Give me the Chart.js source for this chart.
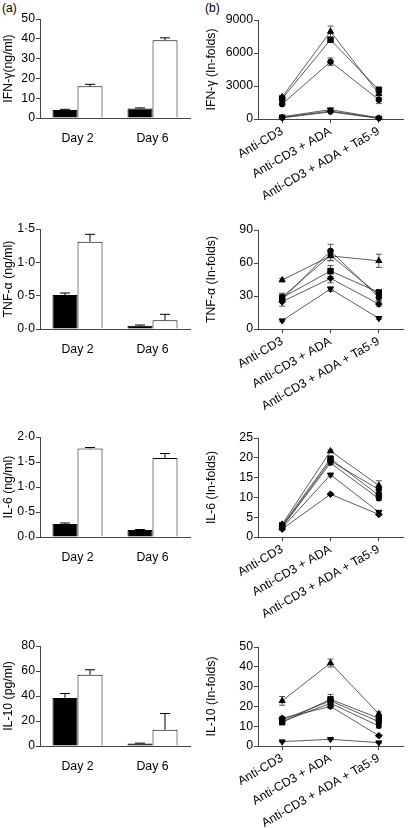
<!DOCTYPE html>
<html><head><meta charset="utf-8">
<script src="https://cdn.jsdelivr.net/npm/chart.js@4"></script>
<style>
body{margin:0;background:#fff;width:408px;height:828px;position:relative;overflow:hidden;font-family:"Liberation Sans",Arial,sans-serif}
canvas{position:absolute}
.lab{position:absolute;font-size:12px;color:#000;font-family:"Liberation Sans",Arial,sans-serif}
</style></head><body>
<div class="lab" style="left:2px;top:1px">(a)</div>
<div class="lab" style="left:205px;top:1px">(b)</div>
<canvas id="p1"></canvas><canvas id="p2"></canvas>
<canvas id="p3"></canvas><canvas id="p4"></canvas>
<canvas id="p5"></canvas><canvas id="p6"></canvas>
<canvas id="p7"></canvas><canvas id="p8"></canvas>
<script>
// ---------- categories ----------
const barCategories = ['Day 2', 'Day 6'];
const lineCategories = ['Anti-CD3', 'Anti-CD3 + ADA', 'Anti-CD3 + ADA + Ta5·9'];

// ---------- tick labels ----------
const ifnBarTicks = [0, 10, 20, 30, 40, 50];
const tnfBarTicks = [0, 0.5, 1.0, 1.5];
const il6BarTicks = [0, 0.5, 1.0, 1.5, 2.0];
const il10BarTicks = [0, 20, 40, 60, 80];
const ifnLineTicks = [0, 3000, 6000, 9000];
const tnfLineTicks = [0, 30, 60, 90];
const il6LineTicks = [0, 5, 10, 15, 20, 25];
const il10LineTicks = [0, 10, 20, 30, 40, 50];

// ---------- bar values (black = filled, white = open) ----------
const ifnBlack = [4.0, 4.8],  ifnBlackErr = [0.4, 0.3];
const ifnWhite = [16.0, 39.3], ifnWhiteErr = [1.0, 1.2];
const tnfBlack = [0.51, 0.05], tnfBlackErr = [0.03, 0.01];
const tnfWhite = [1.31, 0.13], tnfWhiteErr = [0.11, 0.09];
const il6Black = [0.26, 0.14], il6BlackErr = [0.02, 0.01];
const il6White = [1.77, 1.58], il6WhiteErr = [0.02, 0.09];
const il10Black = [38.5, 2.0], il10BlackErr = [3.5, 0.3];
const il10White = [57.0, 13.0], il10WhiteErr = [4.0, 13.0];

// ---------- line values (In-folds) ----------
const ifnTri  = [2000, 7950, 2300], ifnTriErr  = [150, 500, 350];
const ifnSq   = [1850, 7200, 2650], ifnSqErr   = [100, 200, 250];
const ifnCirc = [1350, 5200, 1750], ifnCircErr = [100, 350, 350];
const ifnDown = [200, 850, 100],    ifnDownErr = [50, 100, 30];
const ifnDia  = [150, 720, 80],     ifnDiaErr  = [40, 80, 30];
const ifnHex  = [100, 650, 60],     ifnHexErr  = [30, 60, 20];

const tnfTri  = [44.5, 66.4, 62.0], tnfTriErr  = [1.5, 4, 6];
const tnfSq   = [28.5, 52.7, 33.3], tnfSqErr   = [4, 5, 2];
const tnfCirc = [27.0, 71.0, 28.7], tnfCircErr = [3, 6, 3];
const tnfDia  = [24.8, 46.0, 22.7], tnfDiaErr  = [4, 4, 2];
const tnfDown = [7.6, 36.4, 9.7],   tnfDownErr = [1, 2, 1];
const tnfHex  = [29.0, 67.0, 31.0], tnfHexErr  = [3, 5, 3];

const il6Tri  = [3.2, 21.7, 13.0], il6TriErr  = [0.4, 0.3, 1.2];
const il6Sq   = [2.9, 19.8, 10.5], il6SqErr   = [0.3, 0.4, 0.6];
const il6Circ = [2.7, 19.2, 12.0], il6CircErr = [0.3, 0.4, 0.8];
const il6Hex  = [2.5, 18.7, 9.7],  il6HexErr  = [0.3, 0.4, 0.5];
const il6Down = [2.3, 15.7, 6.3],  il6DownErr = [0.3, 0.3, 0.3];
const il6Dia  = [2.0, 10.8, 5.7],  il6DiaErr  = [0.3, 0.3, 0.3];

const il10Tri  = [22.8, 41.9, 16.2], il10TriErr  = [2.2, 2.0, 1.0];
const il10Sq   = [12.0, 23.6, 14.0], il10SqErr   = [1.0, 2.5, 1.0];
const il10Circ = [13.2, 22.8, 12.3], il10CircErr = [1.0, 1.5, 1.0];
const il10Dia  = [14.0, 20.0, 5.2],  il10DiaErr  = [1.0, 1.0, 0.5];
const il10Hex  = [12.3, 21.6, 10.1], il10HexErr  = [1.0, 1.0, 1.0];
const il10Down = [2.2, 3.4, 1.7],    il10DownErr = [0.3, 0.3, 0.3];

// ---------- rendering ----------
const FS = 12.3;
Chart.defaults.font.family = '"Liberation Sans", Arial, sans-serif';
Chart.defaults.font.size = FS;
Chart.defaults.color = '#000';

const errPlugin = {
  id: 'errbars',
  beforeDatasetsDraw(chart) { if (chart.config.type === 'line') drawErr(chart, false); },
  afterDatasetsDraw(chart) { if (chart.config.type === 'bar') drawErr(chart, true); }
};
function drawErr(chart, upOnly) {
  const ctx = chart.ctx, y = chart.scales.y;
  chart.data.datasets.forEach((ds, i) => {
    if (!ds.errors) return;
    const meta = chart.getDatasetMeta(i);
    meta.data.forEach((el, j) => {
      const e = ds.errors[j]; if (!e) return;
      const v = ds.data[j];
      const top = y.getPixelForValue(v + e);
      const bot = upOnly ? y.getPixelForValue(v) : y.getPixelForValue(Math.max(v - e, 0));
      const cap = upOnly ? 10 : 6;
      ctx.save();
      ctx.strokeStyle = upOnly ? '#000' : '#555';
      ctx.lineWidth = 1;
      ctx.beginPath();
      ctx.moveTo(el.x, top); ctx.lineTo(el.x, bot);
      ctx.moveTo(el.x - cap / 2, top); ctx.lineTo(el.x + cap / 2, top);
      if (!upOnly) { ctx.moveTo(el.x - cap / 2, bot); ctx.lineTo(el.x + cap / 2, bot); }
      ctx.stroke();
      ctx.restore();
    });
  });
}

function yScale(ticks, title, fmt, axisW, titlePad) {
  return {
    min: ticks[0], max: ticks[ticks.length - 1],
    afterBuildTicks: s => { s.ticks = ticks.map(v => ({ value: v })); },
    afterFit: s => { s.width = axisW; },
    ticks: { callback: v => fmt(v), padding: 1, font: { size: FS }, color: '#000' },
    grid: { display: true, drawOnChartArea: false, drawTicks: true, tickLength: 4, color: '#444' },
    border: { display: true, color: '#444', width: 1 },
    title: { display: true, text: title, font: { size: FS }, padding: { top: titlePad, bottom: 0 }, color: '#000' }
  };
}
const fmtInt = v => String(v);
const fmtDot = v => v.toFixed(1).replace('.', '·');

function placeCanvas(id, left, top, w, h) {
  const c = document.getElementById(id);
  c.width = w; c.height = h;
  c.style.left = left + 'px'; c.style.top = top + 'px';
  c.style.width = w + 'px'; c.style.height = h + 'px';
  return c;
}

function makeBar(id, chartTop, chartBottom, black, blackErr, white, whiteErr, ticks, title, fmt) {
  const padTop = 12, xH = 30;
  const c = placeCanvas(id, 0, chartTop - padTop, 204, padTop + (chartBottom - chartTop) + xH);
  new Chart(c, {
    type: 'bar',
    data: {
      labels: barCategories,
      datasets: [
        { data: black, errors: blackErr, backgroundColor: '#000', borderColor: '#000', borderWidth: 1,
          categoryPercentage: 0.667, barPercentage: 1.0 },
        { data: white, errors: whiteErr, backgroundColor: '#fff', borderColor: '#000', borderWidth: 1,
          categoryPercentage: 0.667, barPercentage: 1.0 }
      ]
    },
    options: {
      responsive: false, animation: false, devicePixelRatio: 1,
      layout: { padding: { top: padTop, right: 14, left: 0, bottom: 0 } },
      plugins: { legend: { display: false }, tooltip: { enabled: false } },
      scales: {
        x: {
          afterFit: s => { s.height = xH; },
          ticks: { padding: 5, font: { size: FS }, color: '#000', maxRotation: 0 },
          grid: { display: false },
          border: { display: true, color: '#444', width: 1 }
        },
        y: yScale(ticks, title, fmt, 40, 1)
      }
    },
    plugins: [errPlugin]
  });
}

function lineDs(data, errors, style, radius, rot) {
  return { data, errors, pointStyle: style, pointRadius: radius, pointRotation: rot || 0,
    borderColor: '#333', borderWidth: 0.8, pointBackgroundColor: '#000', pointBorderColor: '#000',
    pointBorderWidth: 1, tension: 0, clip: false, fill: false };
}

function makeLine(id, chartTop, chartBottom, series, ticks, title, fmt) {
  const padTop = 12, xH = 82;
  const c = placeCanvas(id, 204, chartTop - padTop, 204, padTop + (chartBottom - chartTop) + xH);
  new Chart(c, {
    type: 'line',
    data: { labels: lineCategories, datasets: series },
    options: {
      responsive: false, animation: false, devicePixelRatio: 1,
      layout: { padding: { top: padTop, right: 0, left: 0, bottom: 0 } },
      plugins: { legend: { display: false }, tooltip: { enabled: false } },
      scales: {
        x: {
          offset: true,
          afterFit: s => { s.height = xH; },
          ticks: { padding: 1, font: { size: FS }, color: '#000', minRotation: 30, maxRotation: 30, autoSkip: false },
          grid: { display: true, drawOnChartArea: false, drawTicks: true, tickLength: 4, color: '#444', offset: false },
          border: { display: true, color: '#444', width: 1 }
        },
        y: yScale(ticks, title, fmt, 54, 0)
      }
    },
    plugins: [errPlugin]
  });
}

makeBar('p1', 19, 118, ifnBlack, ifnBlackErr, ifnWhite, ifnWhiteErr, ifnBarTicks, 'IFN-γ(ng/ml)', fmtInt);
makeBar('p3', 229, 329, tnfBlack, tnfBlackErr, tnfWhite, tnfWhiteErr, tnfBarTicks, 'TNF-α (ng/ml)', fmtDot);
makeBar('p5', 437, 537, il6Black, il6BlackErr, il6White, il6WhiteErr, il6BarTicks, 'IL-6 (ng/ml)', fmtDot);
makeBar('p7', 646, 746, il10Black, il10BlackErr, il10White, il10WhiteErr, il10BarTicks, 'IL-10 (pg/ml)', fmtInt);

makeLine('p2', 20, 119, [
  lineDs(ifnTri, ifnTriErr, 'triangle', 3.5), lineDs(ifnSq, ifnSqErr, 'rect', 3.8),
  lineDs(ifnCirc, ifnCircErr, 'circle', 2.8), lineDs(ifnDown, ifnDownErr, 'triangle', 3.5, 180),
  lineDs(ifnDia, ifnDiaErr, 'rectRot', 3.3), lineDs(ifnHex, ifnHexErr, 'circle', 2.5)
], ifnLineTicks, 'IFN-γ (In-folds)', fmtInt);

makeLine('p4', 230, 329, [
  lineDs(tnfTri, tnfTriErr, 'triangle', 3.5), lineDs(tnfSq, tnfSqErr, 'rect', 3.8),
  lineDs(tnfCirc, tnfCircErr, 'circle', 2.8), lineDs(tnfDia, tnfDiaErr, 'rectRot', 3.3),
  lineDs(tnfDown, tnfDownErr, 'triangle', 3.5, 180), lineDs(tnfHex, tnfHexErr, 'circle', 2.5)
], tnfLineTicks, 'TNF-α (In-folds)', fmtInt);

makeLine('p6', 438, 537, [
  lineDs(il6Tri, il6TriErr, 'triangle', 3.5), lineDs(il6Sq, il6SqErr, 'rect', 3.8),
  lineDs(il6Circ, il6CircErr, 'circle', 2.8), lineDs(il6Hex, il6HexErr, 'circle', 2.5),
  lineDs(il6Down, il6DownErr, 'triangle', 3.5, 180), lineDs(il6Dia, il6DiaErr, 'rectRot', 3.3)
], il6LineTicks, 'IL-6 (In-folds)', fmtInt);

makeLine('p8', 647, 746, [
  lineDs(il10Tri, il10TriErr, 'triangle', 3.5), lineDs(il10Sq, il10SqErr, 'rect', 3.8),
  lineDs(il10Circ, il10CircErr, 'circle', 2.8), lineDs(il10Dia, il10DiaErr, 'rectRot', 3.3),
  lineDs(il10Hex, il10HexErr, 'circle', 2.5), lineDs(il10Down, il10DownErr, 'triangle', 3.5, 180)
], il10LineTicks, 'IL-10 (In-folds)', fmtInt);
</script>
</body></html>
